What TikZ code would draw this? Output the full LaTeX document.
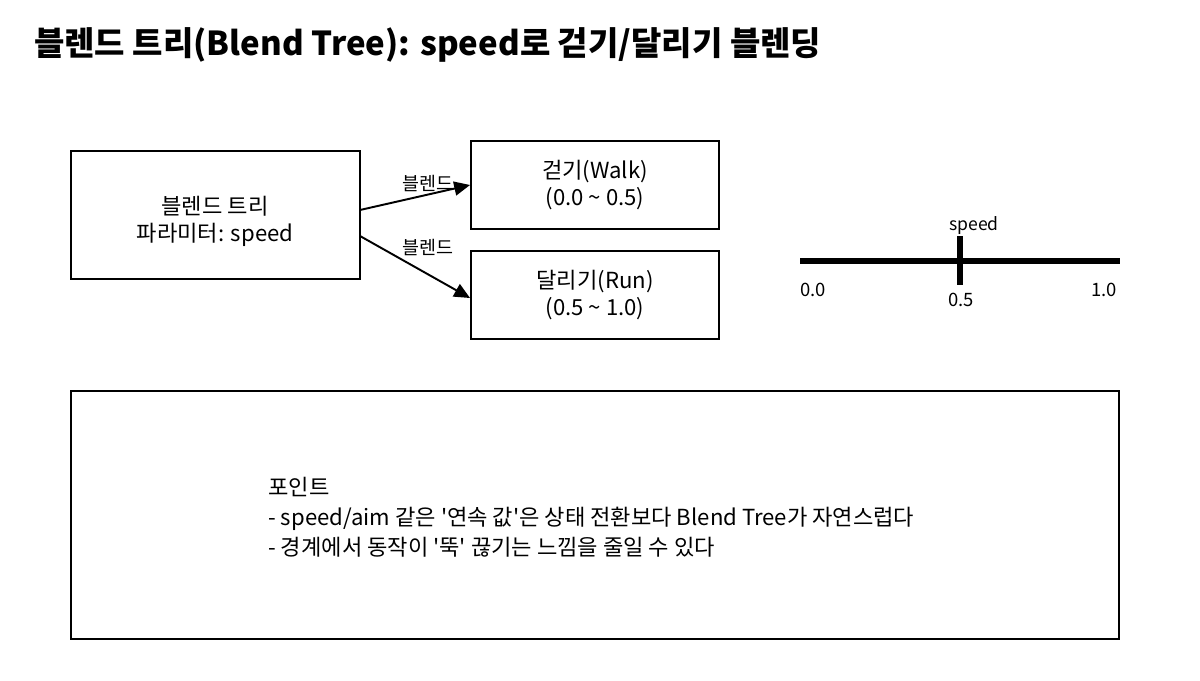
\documentclass[tikz,border=0pt]{standalone}
\usepackage{fontspec}
\setmainfont{Noto Sans CJK KR}
\usepackage{xcolor}
\usetikzlibrary{arrows.meta,positioning}
\definecolor{BInk}{HTML}{000000}
\newcommand{\sq}{\textquotesingle}

\begin{document}
\begin{tikzpicture}[x=0.02cm,y=-0.02cm,
  every node/.style={font=\fontsize{12.6}{15.5}\selectfont,text=BInk},
  treebox/.style={draw=BInk,line width=1.1pt,inner sep=0pt},
  clip/.style={draw=BInk,line width=1.1pt,minimum width=248*0.02cm,
    minimum height=88*0.02cm,align=center},
  arr/.style={-{Triangle[length=9pt,width=8pt]},line width=1.1pt,color=BInk},
  small/.style={font=\fontsize{10.5}{12}\selectfont,inner sep=1pt},
  axis/.style={line width=2.9pt,color=BInk}
]
  \useasboundingbox (0,0) rectangle (1200,680);

  % title
  \node[anchor=west,font=\fontsize{18.8}{22}\selectfont\bfseries] (title) at (28,45)
    {블렌드 트리(Blend Tree): speed로 걷기/달리기 블렌딩};

  % tree node and clips
  \draw[treebox] (71,151) rectangle (360,279);
  \node[align=center] (tree) at (215,221) {블렌드 트리\\파라미터: speed};
  \coordinate (treeout1) at (360,210);
  \coordinate (treeout2) at (360,236);

  \node[clip] (walk) at (595,185) {\raisebox{-3pt}{걷기(Walk)}\\\raisebox{-3pt}{(0.0 \textasciitilde{} 0.5)}};
  \node[clip] (run) at (595,295) {\raisebox{-3pt}{달리기(Run)}\\\raisebox{-3pt}{(0.5 \textasciitilde{} 1.0)}};

  \draw[arr] (treeout1) -- node[small,above,pos=0.62] {블렌드} (walk.west);
  \draw[arr] (treeout2) -- node[small,above,pos=0.62,yshift=9pt] {블렌드} ([yshift=-3*0.02cm]run.west);

  % speed axis
  \coordinate (lo) at (800,261);
  \coordinate (hi) at (1120,261);
  \coordinate (mid) at (960,261);
  \draw[axis] (lo) -- (hi);
  \draw[axis] ([yshift=25*0.02cm]mid) -- ([yshift=-24*0.02cm]mid);
  \node[small,font=\fontsize{10}{11}\selectfont] (spd) at (974,226) {speed};
  \node[small] (v0) at (813,290) {0.0};
  \node[small] (v5) at (961,300) {0.5};
  \node[small] (v1) at (1104,290) {1.0};

  % notes
  \draw[treebox] (71,391) rectangle (1119,639);
  \node[anchor=north west,align=left,inner sep=0pt,
    font=\fontsize{12.6}{17}\selectfont] (notes) at (268,477)
    {포인트\\- speed/aim 같은 \sq 연속 값\sq 은 상태 전환보다 Blend Tree가 자연스럽다\\- 경계에서 동작이 \sq 뚝\sq{} 끊기는 느낌을 줄일 수 있다};
\end{tikzpicture}
\end{document}
